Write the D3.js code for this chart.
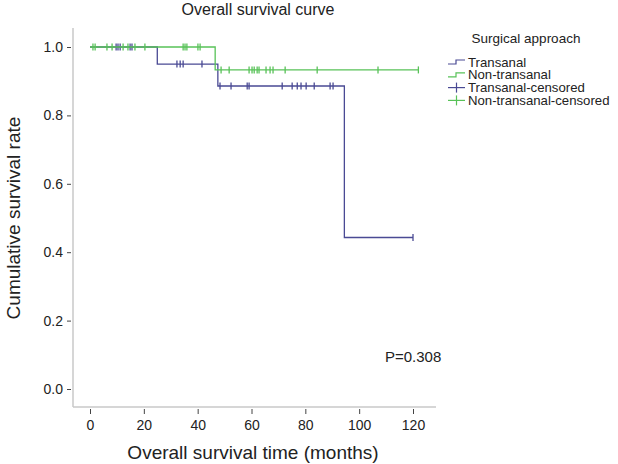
<!DOCTYPE html>
<html>
<head>
<meta charset="utf-8">
<script src="https://cdn.jsdelivr.net/npm/d3@7"></script>
<style>
  body { margin: 0; background: #fff; }
  svg { font-family: "Liberation Sans", Arial, sans-serif; }
</style>
</head>
<body>
<svg id="chart" width="618" height="464"></svg>
<script>
// groups and legend labels
const groups = ['Transanal', 'Non-transanal'];
const legendLabels = ['Transanal', 'Non-transanal', 'Transanal-censored', 'Non-transanal-censored'];

// event times (months) where each curve steps down, and the survival after each step
const transanalEvents = [25, 47.5, 94.5];
const transanalSurv = [1.0, 0.95, 0.886, 0.443];
const transanalEnd = 120;
const transanalCensored = [9.7, 10.4, 11.2, 14.9, 15.6,
  32.3, 33.5, 34.6, 41.6,
  48.3, 52.4, 58.4, 59.1, 71.4, 75.1, 77.0, 78.4, 80.3, 83.3, 89.2, 90.3,
  120];

const nonTransanalEvents = [46.5];
const nonTransanalSurv = [1.0, 0.933];
const nonTransanalEnd = 122;
const nonTransanalCensored = [1.1, 1.9, 6.3, 8.2, 12.3, 14.1, 16.7, 20.4,
  34.6, 35.3, 36.0, 40.1, 40.9,
  48.7, 51.7, 59.1, 60.2, 61.0, 62.1, 62.8, 65.4, 66.9, 68.0, 72.5, 84.4, 107, 122];

const xTicks = [0, 20, 40, 60, 80, 100, 120];
const yTicks = [0, 0.2, 0.4, 0.6, 0.8, 1.0];
const pValue = 'P=0.308';

const colors = { 'Transanal': '#4a4a94', 'Non-transanal': '#58c258' };

const svg = d3.select('#chart');
const x = d3.scaleLinear().domain([0, 120]).range([90, 413]);
const y = d3.scaleLinear().domain([0, 1]).range([389, 47]);

// axes lines (gray) like SPSS output
svg.append('line').attr('x1', 73).attr('x2', 73).attr('y1', 28).attr('y2', 407)
  .attr('stroke', '#c8c8c8').attr('stroke-width', 1.5);
svg.append('line').attr('x1', 73).attr('x2', 436).attr('y1', 407).attr('y2', 407)
  .attr('stroke', '#c8c8c8').attr('stroke-width', 1.5);

const xAxis = svg.append('g').attr('transform', 'translate(0,409)')
  .call(d3.axisBottom(x).tickValues(xTicks).tickSize(5).tickPadding(6).tickFormat(d3.format('d')));
xAxis.select('.domain').remove();
const yAxis = svg.append('g').attr('transform', 'translate(71,0)')
  .call(d3.axisLeft(y).tickValues(yTicks).tickSize(4).tickPadding(4).tickFormat(d3.format('.1f')));
yAxis.select('.domain').remove();
svg.selectAll('.tick line').attr('stroke', '#444');
svg.selectAll('.tick text').attr('fill', '#222').style('font-size', '14px');

const curves = [
  { name: 'Transanal', events: transanalEvents, surv: transanalSurv, end: transanalEnd, cens: transanalCensored },
  { name: 'Non-transanal', events: nonTransanalEvents, surv: nonTransanalSurv, end: nonTransanalEnd, cens: nonTransanalCensored }
];

const survAt = (c, t) => {
  let s = c.surv[0];
  c.events.forEach((e, i) => { if (t >= e) s = c.surv[i + 1]; });
  return s;
};

const line = d3.line().x(d => x(d[0])).y(d => y(d[1])).curve(d3.curveStepAfter);

curves.forEach(c => {
  const pts = [[0, c.surv[0]]];
  c.events.forEach((e, i) => pts.push([e, c.surv[i + 1]]));
  pts.push([c.end, c.surv[c.surv.length - 1]]);
  svg.append('path').attr('d', line(pts)).attr('fill', 'none')
    .attr('stroke', colors[c.name]).attr('stroke-width', 1.3);

  svg.append('g').selectAll('line').data(c.cens).join('line')
    .attr('x1', d => x(d)).attr('x2', d => x(d))
    .attr('y1', d => y(survAt(c, d)) - 3.5).attr('y2', d => y(survAt(c, d)) + 3.5)
    .attr('stroke', colors[c.name]).attr('stroke-width', 1.3);
});

// titles
svg.append('text').attr('x', 258).attr('y', 15).attr('text-anchor', 'middle')
  .style('font-size', '16px').attr('fill', '#222').text('Overall survival curve');
svg.append('text').attr('x', 253).attr('y', 459).attr('text-anchor', 'middle')
  .style('font-size', '19px').attr('fill', '#222').text('Overall survival time (months)');
svg.append('text').attr('transform', 'translate(20,218) rotate(-90)').attr('text-anchor', 'middle')
  .style('font-size', '19px').attr('fill', '#222').text('Cumulative survival rate');
svg.append('text').attr('x', 385).attr('y', 362)
  .style('font-size', '15px').attr('fill', '#222').text(pValue);

// legend
const leg = svg.append('g');
leg.append('text').attr('x', 526).attr('y', 43).attr('text-anchor', 'middle')
  .style('font-size', '13.5px').attr('fill', '#222').text('Surgical approach');
legendLabels.forEach((lab, i) => {
  const yy = 62 + i * 12.8;
  const col = i % 2 === 0 ? colors['Transanal'] : colors['Non-transanal'];
  const g = leg.append('g');
  if (i < 2) {
    g.append('path').attr('d', `M448,${yy + 2}H456V${yy - 2}H465`).attr('fill', 'none')
      .attr('stroke', col).attr('stroke-width', 1.2);
  } else {
    g.append('line').attr('x1', 448).attr('x2', 465).attr('y1', yy).attr('y2', yy)
      .attr('stroke', col).attr('stroke-width', 1.2);
    g.append('line').attr('x1', 456.5).attr('x2', 456.5).attr('y1', yy - 5).attr('y2', yy + 5)
      .attr('stroke', col).attr('stroke-width', 1.2);
  }
  g.append('text').attr('x', 468).attr('y', yy + 4.5).style('font-size', '13.2px').attr('fill', '#222').text(lab);
});
</script>
</body>
</html>
